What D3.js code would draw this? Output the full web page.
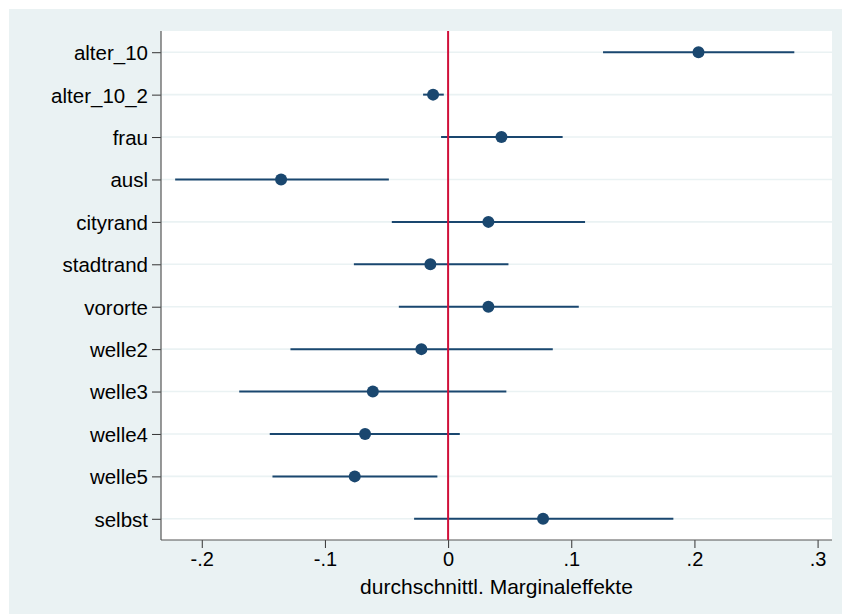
<!DOCTYPE html>
<html>
<head>
<meta charset="utf-8">
<script src="https://cdn.jsdelivr.net/npm/d3@7"></script>
<style>
  html, body { margin: 0; padding: 0; background: #ffffff; }
  svg { display: block; }
  text { font-family: "Liberation Sans", Arial, sans-serif; fill: #000; }
</style>
</head>
<body>
<svg id="chart" width="842" height="614"></svg>
<script>
const categories = ["alter_10", "alter_10_2", "frau", "ausl", "cityrand", "stadtrand",
  "vororte", "welle2", "welle3", "welle4", "welle5", "selbst"];
const estimates = [0.2033, -0.0122, 0.0433, -0.1356, 0.0327, -0.0144,
  0.0327, -0.0217, -0.0611, -0.0674, -0.0758, 0.0771];
const ciLower = [0.1258, -0.0203, -0.0057, -0.2216, -0.0457, -0.0765,
  -0.0400, -0.1280, -0.1696, -0.1448, -0.1426, -0.0276];
const ciUpper = [0.2811, -0.0035, 0.0930, -0.0481, 0.1112, 0.0490,
  0.1061, 0.0850, 0.0473, 0.0095, -0.0087, 0.1829];
const xTicks = [-0.2, -0.1, 0, 0.1, 0.2, 0.3];
const xTickLabels = ["-.2", "-.1", "0", ".1", ".2", ".3"];
const xTitle = "durchschnittl. Marginaleffekte";

const svg = d3.select("#chart");
const W = 842, H = 614;
const plot = { left: 161, top: 31, right: 832, bottom: 540 };

// outer background
svg.append("rect").attr("x", 9).attr("y", 9).attr("width", W - 9).attr("height", H - 9)
  .attr("fill", "#eaf2f3");
// plot region
svg.append("rect").attr("x", plot.left).attr("y", plot.top)
  .attr("width", plot.right - plot.left).attr("height", plot.bottom - plot.top)
  .attr("fill", "#ffffff");

const x = d3.scaleLinear().domain([-0.2331, 0.3117]).range([plot.left, plot.right]);
const y = d3.scalePoint().domain(categories).range([plot.top, plot.bottom]).padding(0.5);

// gridlines
svg.append("g").selectAll("line").data(categories).join("line")
  .attr("x1", plot.left).attr("x2", plot.right)
  .attr("y1", d => y(d)).attr("y2", d => y(d))
  .attr("stroke", "#eaf2f3").attr("stroke-width", 1.6);

// y axis
const yAxis = d3.axisLeft(y).tickSize(9).tickPadding(4);
const gy = svg.append("g").attr("transform", `translate(${plot.left},0)`).call(yAxis);
gy.select(".domain").remove();
gy.selectAll(".tick line").attr("stroke", "#333").attr("stroke-width", 1);
gy.selectAll(".tick text").attr("font-size", 20.5).attr("font-family", "Liberation Sans, Arial, sans-serif")
  .attr("fill", "#000").attr("dy", "0.36em");
svg.append("line").attr("x1", plot.left).attr("x2", plot.left)
  .attr("y1", plot.top).attr("y2", plot.bottom)
  .attr("stroke", "#555").attr("stroke-width", 1.2);

// x axis
const xAxis = d3.axisBottom(x).tickValues(xTicks)
  .tickFormat((d, i) => xTickLabels[i]).tickSize(8).tickPadding(4);
const gx = svg.append("g").attr("transform", `translate(0,${plot.bottom})`).call(xAxis);
gx.select(".domain").remove();
gx.selectAll(".tick line").attr("stroke", "#333").attr("stroke-width", 1);
gx.selectAll(".tick text").attr("font-size", 20).attr("font-family", "Liberation Sans, Arial, sans-serif")
  .attr("fill", "#000");
svg.append("line").attr("x1", plot.left).attr("x2", plot.right)
  .attr("y1", plot.bottom).attr("y2", plot.bottom)
  .attr("stroke", "#555").attr("stroke-width", 1.2);

svg.append("text").attr("x", (plot.left + plot.right) / 2 + 0).attr("y", 594)
  .attr("text-anchor", "middle").attr("font-size", 21).text(xTitle);

// CI lines
const rows = categories.map((c, i) => ({ c, est: estimates[i], lo: ciLower[i], hi: ciUpper[i] }));
svg.append("g").selectAll("line").data(rows).join("line")
  .attr("x1", d => x(d.lo)).attr("x2", d => x(d.hi))
  .attr("y1", d => y(d.c)).attr("y2", d => y(d.c))
  .attr("stroke", "#1a476f").attr("stroke-width", 2);

// zero reference line
svg.append("line").attr("x1", x(0)).attr("x2", x(0))
  .attr("y1", plot.top).attr("y2", plot.bottom)
  .attr("stroke", "#d0103a").attr("stroke-width", 2);

// points
svg.append("g").selectAll("circle").data(rows).join("circle")
  .attr("cx", d => x(d.est)).attr("cy", d => y(d.c)).attr("r", 6)
  .attr("fill", "#1a476f");
</script>
</body>
</html>
